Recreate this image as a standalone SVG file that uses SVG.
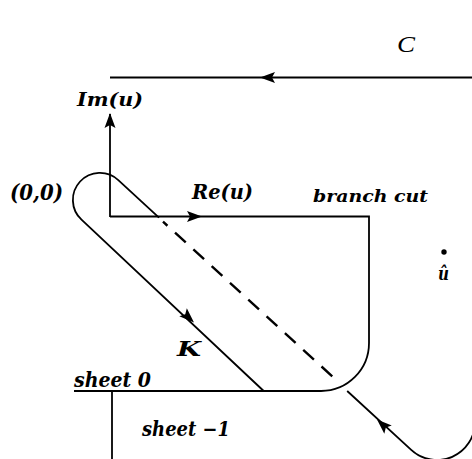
<svg xmlns="http://www.w3.org/2000/svg" xmlns:xlink="http://www.w3.org/1999/xlink" width="472" height="459" viewBox="0 0 472 459">
  <style>
    .ln { fill: none; stroke: #000; stroke-width: 1.8; stroke-linecap: butt; }
    .dash { stroke-width: 2.4; stroke-dasharray: 14.5 10.3; stroke-dashoffset: 8.5; }
    .lbl { font-family: "DejaVu Serif", "Liberation Serif", serif; font-weight: bold; font-style: italic; fill: #000; }
    .cl { font-family: "Liberation Serif", "DejaVu Serif", serif; font-style: italic; fill: #000; }
  </style>
  <defs>
    <path id="ah" d="M0,0 L-15,-5.5 L-12,0 L-15,5.5 Z" fill="#000"/>
  </defs>
  <rect width="472" height="459" fill="#fff"/>

  <g id="connectors">
    <!-- contour C -->
    <path class="ln" d="M110,77.5 H472" stroke-width="2"/>
    <use xlink:href="#ah" href="#ah" transform="translate(260,77.5) rotate(180)"/>
    <!-- Im axis -->
    <path class="ln" d="M110,217 V114"/>
    <use xlink:href="#ah" href="#ah" transform="translate(110,113) rotate(-90)"/>
    <!-- Re axis and branch cut boundary / sheet 0 line -->
    <path class="ln" d="M110,216.5 H369 V343 A48,48 0 0 1 321,391 H74"/>
    <use xlink:href="#ah" href="#ah" transform="translate(202,216.5)"/>
    <!-- sheet -1 boundary -->
    <path class="ln" d="M112,391 V459"/>
    <!-- contour K: lower leg, loop around origin, upper leg -->
    <path class="ln" d="M263.7,391 L81.5,219.7 A27,27 0 0 1 118.3,180.1 L159,217.7"/>
    <use xlink:href="#ah" href="#ah" transform="translate(194,322.5) rotate(43.2)"/>
    <path class="ln dash" d="M163,221.7 L333,377"/>
    <path class="ln" d="M347.2,391 L411.2,449.9 A38,38 0 0 0 475,422"/>
    <use xlink:href="#ah" href="#ah" transform="translate(377,419.5) rotate(222.6)"/>
  </g>

  <g id="label-C"><text class="cl" x="397" y="52" font-size="24" textLength="18" lengthAdjust="spacingAndGlyphs">C</text></g>
  <g id="label-Im"><text class="lbl" x="77" y="106" font-size="19" textLength="66" lengthAdjust="spacingAndGlyphs">Im(u)</text></g>
  <g id="label-origin"><text class="lbl" x="10" y="200" font-size="22" textLength="53" lengthAdjust="spacingAndGlyphs">(0,0)</text></g>
  <g id="label-Re"><text class="lbl" x="192" y="199" font-size="21" textLength="61" lengthAdjust="spacingAndGlyphs">Re(u)</text></g>
  <g id="label-branch"><text class="lbl" x="313" y="202" font-size="17" textLength="115" lengthAdjust="spacingAndGlyphs">branch cut</text></g>
  <g id="point-uhat">
    <circle cx="444" cy="252" r="2.7" fill="#000"/>
    <text class="lbl" x="438" y="280" font-size="19" textLength="11" lengthAdjust="spacingAndGlyphs">û</text>
  </g>
  <g id="label-K"><text class="lbl" x="177" y="356" font-size="20" textLength="24" lengthAdjust="spacingAndGlyphs">K</text></g>
  <g id="label-sheet0"><text class="lbl" x="74" y="387" font-size="20" textLength="77" lengthAdjust="spacingAndGlyphs">sheet 0</text></g>
  <g id="label-sheet-1"><text class="lbl" x="142" y="436" font-size="20" textLength="88" lengthAdjust="spacingAndGlyphs">sheet −1</text></g>
</svg>
